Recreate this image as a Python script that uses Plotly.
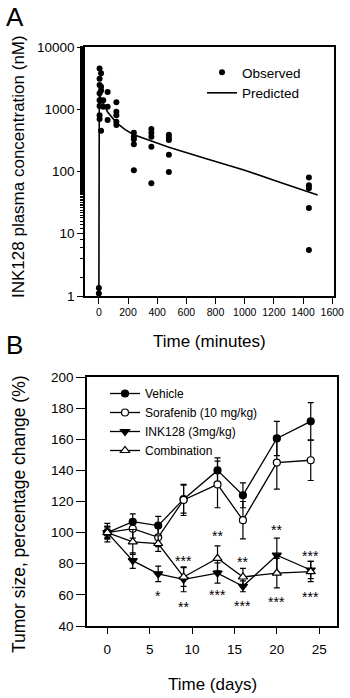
import plotly.graph_objects as go

# ---------------- Panel A data ----------------
obs_time = [0, 0,
            5, 5, 5, 5, 5, 5, 5, 5,
            15, 15, 15, 15, 15,
            30, 30,
            60, 60, 60,
            120, 120, 120, 120, 120,
            240, 240, 240, 240, 240,
            360, 360, 360, 360, 360,
            480, 480, 480, 480, 480,
            1440, 1440, 1440, 1440, 1440]
obs_conc = [1.1, 1.35,
            4500, 3100, 2450, 1800, 1400, 1130, 800, 700,
            3800, 2300, 2000, 1370, 450,
            1400, 1100,
            1900, 1100, 670,
            1300, 910, 800, 630, 560,
            420, 360, 330, 275, 105,
            480, 420, 360, 250, 65,
            390, 350, 320, 185, 98,
            80, 60, 54, 26, 5.5]
pred_time = [0, 3, 15, 30, 60, 120, 180, 240, 360, 480, 720, 1000, 1240, 1500]
pred_conc = [1, 1700, 1500, 1250, 900, 610, 470, 390, 305, 245, 165, 105, 67, 42]
a_xticks = [0, 200, 400, 600, 800, 1000, 1200, 1400, 1600]
a_yticks = [1, 10, 100, 1000, 10000]
a_yticklabels = ["1", "10", "100", "1000", "10000"]

# ---------------- Panel B data ----------------
days = [0, 3, 6, 9, 13, 16, 20, 24]
vehicle = [100, 107, 104.5, 121.5, 140, 124, 160.5, 171.5]
vehicle_err = [6, 5, 6, 9, 8, 8, 11, 12]
sorafenib = [100, 102.5, 97, 121, 131, 108, 145, 146.5]
sorafenib_err = [4, 6, 6, 10, 15, 12, 17, 13]
ink128 = [100, 82, 73.5, 70, 74, 65.5, 85.5, 76]
ink128_err = [4, 5, 5, 8, 6.5, 3.5, 11, 5.5]
combination = [100, 94, 93, 71.5, 83.5, 71.5, 74, 75]
combination_err = [3, 8, 5, 6, 8, 5.5, 9.5, 6.5]
b_xticks = [0, 5, 10, 15, 20, 25]

star_days = [6, 9, 9, 13, 13, 16, 16, 20, 20, 24, 24]
star_vals = [62, 84.5, 55, 100.5, 62.5, 84, 55.5, 104, 58, 87.5, 61]
star_text = ["*", "***", "**", "**", "***", "**", "***", "**", "***", "***", "***"]

FONT = "Arial, 'Liberation Sans', sans-serif"
W, H = 350, 698


def px(x):
    return x / W


def py(y):
    return 1 - y / H


fig = go.Figure()

fig.add_trace(go.Scatter(x=obs_time, y=obs_conc, mode="markers", name="Observed",
                         marker=dict(color="black", size=6),
                         xaxis="x", yaxis="y", legend="legend"))
fig.add_trace(go.Scatter(x=pred_time, y=pred_conc, mode="lines", name="Predicted",
                         line=dict(color="black", width=1.6),
                         xaxis="x", yaxis="y", legend="legend"))

series = [
    ("Vehicle", vehicle, vehicle_err, "circle", "black", 7),
    ("Sorafenib (10 mg/kg)", sorafenib, sorafenib_err, "circle", "white", 7),
    ("INK128 (3mg/kg)", ink128, ink128_err, "triangle-down", "black", 8),
    ("Combination", combination, combination_err, "triangle-up", "white", 8),
]
for name, vals, err, sym, fill, sz in series:
    fig.add_trace(go.Scatter(
        x=days, y=vals, mode="lines+markers", name=name,
        error_y=dict(type="data", array=err, visible=True, color="black",
                     thickness=1.2, width=3),
        marker=dict(symbol=sym, size=sz, color=fill, line=dict(color="black", width=1.2)),
        line=dict(color="black", width=1.3),
        xaxis="x2", yaxis="y2", legend="legend2"))

annotations = []
for d, v, t in zip(star_days, star_vals, star_text):
    annotations.append(dict(x=d, y=v, xref="x2", yref="y2", text=t, showarrow=False,
                            yshift=-4, font=dict(family=FONT, size=14, color="black")))

annotations += [
    dict(x=px(4), y=py(0), xref="paper", yref="paper", text="A", showarrow=False,
         xanchor="left", yanchor="top", font=dict(family=FONT, size=26, color="black")),
    dict(x=px(4), y=py(345), xref="paper", yref="paper", text="B", showarrow=False,
         xanchor="left", yanchor="middle", font=dict(family=FONT, size=26, color="black")),
    dict(x=px(209), y=py(341), xref="paper", yref="paper", text="Time (minutes)",
         showarrow=False, xanchor="center", yanchor="middle",
         font=dict(family=FONT, size=17, color="black")),
    dict(x=px(19), y=py(167), xref="paper", yref="paper",
         text="INK128 plasma concentration (nM)", textangle=-90,
         showarrow=False, xanchor="center", yanchor="middle",
         font=dict(family=FONT, size=17, color="black")),
    dict(x=px(212), y=py(684), xref="paper", yref="paper", text="Time (days)",
         showarrow=False, xanchor="center", yanchor="middle",
         font=dict(family=FONT, size=17, color="black")),
    dict(x=px(19), y=py(514), xref="paper", yref="paper",
         text="Tumor size, percentage change (%)", textangle=-90,
         showarrow=False, xanchor="center", yanchor="middle",
         font=dict(family=FONT, size=17.5, color="black")),
]

axis_common = dict(showline=True, linecolor="black", linewidth=1.5, mirror=True,
                   ticks="outside", tickcolor="black", tickwidth=1.2,
                   showgrid=False, zeroline=False, automargin=False)

fig.update_layout(
    width=W, height=H,
    margin=dict(l=0, r=0, t=0, b=0, autoexpand=False),
    paper_bgcolor="white", plot_bgcolor="white",
    showlegend=True,
    xaxis=dict(domain=[px(85), px(334)], anchor="y", range=[-95, 1612],
               tickmode="array", tickvals=a_xticks, ticklen=6, tickangle=0,
               tickfont=dict(family=FONT, size=10.5, color="black"), **axis_common),
    yaxis=dict(domain=[py(296), py(47)], anchor="x", type="log", range=[0, 4],
               tickmode="array", tickvals=a_yticks, ticktext=a_yticklabels, ticklen=6,
               tickfont=dict(family=FONT, size=13.5, color="black"),
               minor=dict(ticks="outside", ticklen=3, tickcolor="black", tickwidth=1,
                          showgrid=False),
               **axis_common),
    xaxis2=dict(domain=[px(87), px(337)], anchor="y2", range=[-2.4, 27.1],
                tickmode="array", tickvals=b_xticks, ticklen=6, ticklabelstandoff=4,
                tickfont=dict(family=FONT, size=13.5, color="black"), **axis_common),
    yaxis2=dict(domain=[py(626), py(377)], anchor="x2", range=[40, 200],
                tickmode="linear", tick0=40, dtick=20, ticklen=9,
                tickfont=dict(family=FONT, size=13.5, color="black"), **axis_common),
    legend=dict(x=px(202), y=py(57), xanchor="left", yanchor="top",
                bgcolor="rgba(0,0,0,0)", borderwidth=0,
                font=dict(family=FONT, size=13.5, color="black")),
    legend2=dict(x=px(105), y=py(379), xanchor="left", yanchor="top",
                 bgcolor="rgba(0,0,0,0)", borderwidth=0,
                 font=dict(family=FONT, size=12, color="black")),
    annotations=annotations,
)

fig.write_html("out.html", config={"displayModeBar": False},
               post_script="document.body.style.margin='0';document.body.style.padding='0';")
